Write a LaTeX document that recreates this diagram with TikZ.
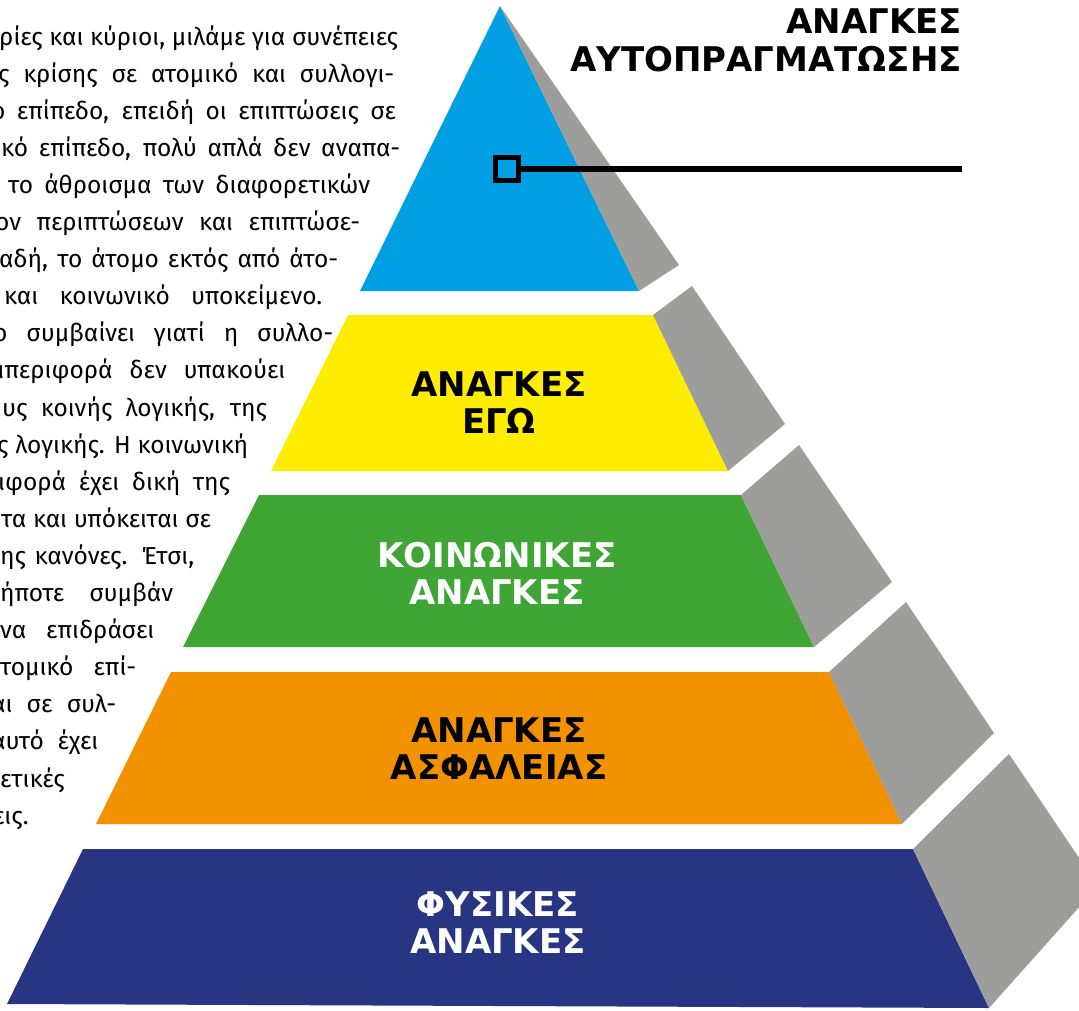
\documentclass[tikz,border=0pt]{standalone}
\usepackage{fontspec}
\setmainfont{Fira Sans}
\newfontfamily\headfont{DejaVu Sans}
\definecolor{topblue}{HTML}{009FE3}
\definecolor{egoyellow}{HTML}{FFED00}
\definecolor{socgreen}{HTML}{3FA535}
\definecolor{safeorange}{HTML}{F39200}
\definecolor{bodynavy}{HTML}{283583}
\definecolor{sidegrey}{HTML}{9D9D9C}

\begin{document}
\begin{tikzpicture}[
  x=1pt, y=-1pt,
  side/.style={fill=sidegrey},
  level/.style={font=\headfont\bfseries\fontsize{34}{37}\selectfont, align=center, anchor=base, inner sep=0pt},
  body/.style={anchor=base west, inner sep=0pt, font=\fontsize{24.5}{28}\selectfont},
  marker/.style={draw=black, line width=5pt, fill=topblue, minimum size=23pt, inner sep=0pt}
]
\useasboundingbox (0,0) rectangle (1079,1010);

% Pyramid faces
\fill[topblue] (500,6) -- (639,291) -- (360,291) -- cycle;
\fill[egoyellow] (348,315) -- (653,315) -- (728,471) -- (271,471) -- cycle;
\fill[socgreen] (259,495) -- (741,495) -- (814,647) -- (183,647) -- cycle;
\fill[safeorange] (171,672) -- (829,672) -- (902,824) -- (96,824) -- cycle;
\fill[bodynavy] (83,849) -- (913,849) -- (989,1008) -- (7,1004) -- cycle;

% Grey sides
\fill[side] (500,6) -- (679,265) -- (639,291) -- cycle;
\fill[side] (653,315) -- (692,286) -- (785,424) -- (728,471) -- cycle;
\fill[side] (741,495) -- (799,445) -- (892,582) -- (814,647) -- cycle;
\fill[side] (829,672) -- (906,602) -- (994,733) -- (902,824) -- cycle;
\fill[side] (913,849) -- (1009,754) -- (1098,886) -- (989,1008) -- cycle;

% Level labels (base = last line)
\node[level] (ego) at (499,433) {ΑΝΑΓΚΕΣ\\ΕΓΩ};
\node[level, text=white] (social) at (497,604) {ΚΟΙΝΩΝΙΚΕΣ\\ΑΝΑΓΚΕΣ};
\node[level] (safety) at (499,779) {ΑΝΑΓΚΕΣ\\ΑΣΦΑΛΕΙΑΣ};
\node[level, text=white] (physical) at (498,953) {ΦΥΣΙΚΕΣ\\ΑΝΑΓΚΕΣ};

% Top level callout
\node[level, anchor=base east, align=right, font=\headfont\bfseries\fontsize{34}{38}\selectfont] (self) at (962,71) {ΑΝΑΓΚΕΣ\\ΑΥΤΟΠΡΑΓΜΑΤΩΣΗΣ};
\node[marker] (mark) at (507,169) {};
\coordinate (lineend) at (962,169);
\draw[line width=6pt] (mark.east) -- (lineend);

% Body text, justified lines (start / end / text)
\foreach [count=\i] \x/\e/\t in {
  -1/398/{ρίες και κύριοι, μιλάμε για συνέπειες},
  -2/394/{ς κρίσης σε ατομικό και συλλογι-},
  -9/396/{ο επίπεδο, επειδή οι επιπτώσεις σε},
  1/400/{κό επίπεδο, πολύ απλά δεν αναπα-},
  8/370/{το άθροισμα των διαφορετικών},
  -5/360/{ον περιπτώσεων και επιπτώσε-},
  -1/338/{αδή, το άτομο εκτός από άτο-},
  4/322/{και κοινωνικό υποκείμενο.},
  -7/333/{ο συμβαίνει γιατί η συλλο-},
  -10/285/{μπεριφορά δεν υπακούει},
  2/267/{υς κοινής λογικής, της},
  -3/248/{ς λογικής. Η κοινωνική},
  -2/230/{ιφορά έχει δική της},
  1/211/{τα και υπόκειται σε},
  0/194/{ης κανόνες. Έτσι,},
  0/173/{ήποτε συμβάν},
  0/154/{να επιδράσει},
  0/136/{τομικό επί-},
  -9/116/{αι σε συλ-},
  -9/98/{αυτό έχει},
  0/79/{ετικές},
  -7/26/{εις.}}
  \node[body] (line\i) at (\x,{45+37.1*(\i-1)}) {\makebox[\dimexpr\e pt-\x pt\relax][s]{\t}};
\end{tikzpicture}
\end{document}
